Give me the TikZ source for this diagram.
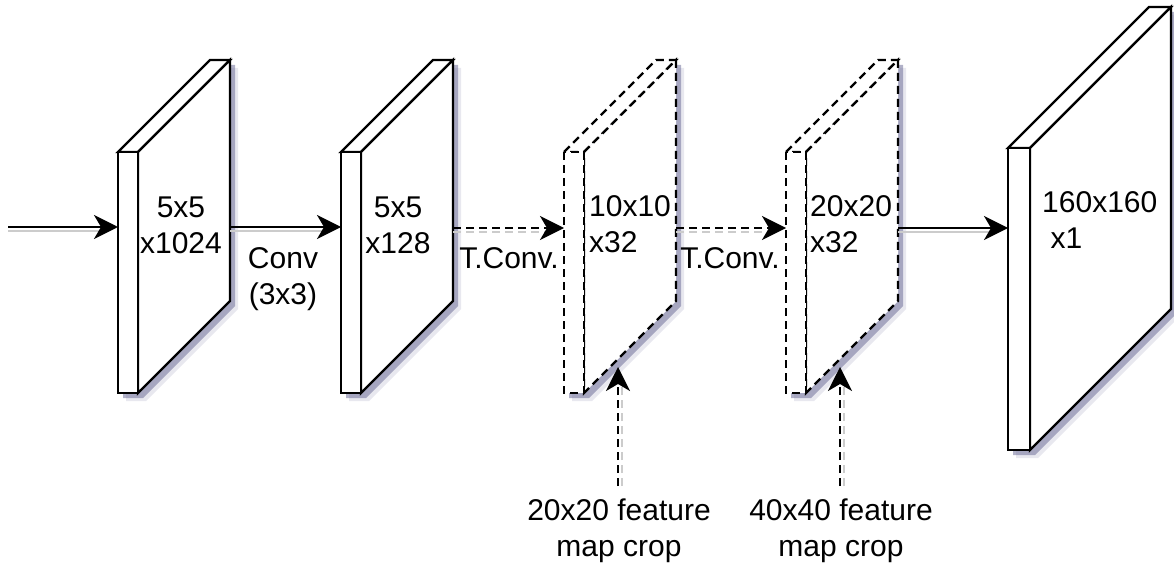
\documentclass[tikz,border=0pt]{standalone}
\usepackage{fontspec}
\setmainfont{Liberation Sans}
\usetikzlibrary{arrows.meta}
\definecolor{shadowc}{RGB}{100,100,145}
\tikzset{
 wire/.style={line width=2.4pt, -{Stealth[length=24pt,width=24pt,inset=7pt]}},
 dashwire/.style={wire, dash pattern=on 8pt off 5pt},
 wireshadow/.style={line width=2.4pt, draw=gray!40},
 dashwireshadow/.style={wireshadow, dash pattern=on 8pt off 5pt},
 blockline/.style={line width=2.4pt, fill=white, line join=miter},
 dashblock/.style={blockline, dash pattern=on 8pt off 5pt},
 lbl/.style={font=\fontsize{30}{36}\selectfont, inner sep=0pt, align=center},
 lbll/.style={lbl, align=left, anchor=west},
}
\newcommand\fmblock[6]{%
 \pgfmathsetmacro\xa{#2}\pgfmathsetmacro\xb{#2+#3}%
 \pgfmathsetmacro\xc{#2+#6}\pgfmathsetmacro\xd{#2+#3+#6}%
 \pgfmathsetmacro\ya{#4}\pgfmathsetmacro\yb{#4-#6}%
 \pgfmathsetmacro\yc{#4+#5}\pgfmathsetmacro\yd{#4+#5-#6}%
 \fill[shadowc, opacity=0.15, xshift=8pt, yshift=-8pt] (\xa,\ya) -- (\xc,\yb) -- (\xd,\yb) -- (\xd,\yd) -- (\xb,\yc) -- (\xa,\yc) -- cycle;
 \fill[shadowc, opacity=0.5, xshift=5pt, yshift=-5pt] (\xa,\ya) -- (\xc,\yb) -- (\xd,\yb) -- (\xd,\yd) -- (\xb,\yc) -- (\xa,\yc) -- cycle;
 \draw[#1] (\xa,\ya) -- (\xc,\yb) -- (\xd,\yb) -- (\xb,\ya) -- cycle;
 \draw[#1] (\xb,\ya) -- (\xd,\yb) -- (\xd,\yd) -- (\xb,\yc) -- cycle;
 \draw[#1] (\xa,\ya) rectangle (\xb,\yc);
}
\begin{document}
\begin{tikzpicture}[x=1pt,y=-1pt]
\useasboundingbox (0,0) rectangle (1174,569);
% blocks
\fmblock{blockline}{118}{20}{152}{241}{92}
\fmblock{blockline}{341}{20}{152}{241}{92}
\fmblock{dashblock}{564}{20}{152}{241}{92}
\fmblock{dashblock}{786}{20}{152}{241}{92}
\fmblock{blockline}{1008}{22}{148}{302}{141}
% connection points
\coordinate (in) at (8,227);
\coordinate (b1w) at (118,227);
\coordinate (b1e) at (230,227);
\coordinate (b2w) at (341,227);
\coordinate (b2e) at (453,228);
\coordinate (b3w) at (564,228);
\coordinate (b3e) at (676,228);
\coordinate (b4w) at (786,228);
\coordinate (b4e) at (898,228);
\coordinate (b5w) at (1008,228);
\coordinate (b3s) at (618,367);
\coordinate (b4s) at (840,367);
\coordinate (c1) at (618,486);
\coordinate (c2) at (840,486);
% connector shadows
\draw[wireshadow] ([yshift=-4pt]in) -- ([yshift=-4pt,xshift=-10pt]b1w);
\draw[wireshadow] ([yshift=-4pt]b1e) -- ([yshift=-4pt,xshift=-10pt]b2w);
\draw[dashwireshadow] ([yshift=-4pt]b2e) -- ([yshift=-4pt,xshift=-10pt]b3w);
\draw[dashwireshadow] ([yshift=-4pt]b3e) -- ([yshift=-4pt,xshift=-10pt]b4w);
\draw[wireshadow] ([yshift=-4pt]b4e) -- ([yshift=-4pt,xshift=-10pt]b5w);
\draw[dashwireshadow] ([xshift=4pt]c1) -- ([xshift=4pt,yshift=-10pt]b3s);
\draw[dashwireshadow] ([xshift=4pt]c2) -- ([xshift=4pt,yshift=-10pt]b4s);
% connectors
\draw[wire] (in) -- (b1w);
\draw[wire] (b1e) -- (b2w);
\draw[dashwire] (b2e) -- (b3w);
\draw[dashwire] (b3e) -- (b4w);
\draw[wire] (b4e) -- (b5w);
\draw[dashwire] (c1) -- (b3s);
\draw[dashwire] (c2) -- (b4s);
% texts
\node[lbl] (t1) at (181,225) {5x5\\x1024};
\node[lbl] (t2) at (398,225) {5x5\\x128};
\node[lbll] (t3) at (589,224) {10x10\\x32};
\node[lbll] (t4) at (810,224) {20x20\\x32};
\node[lbll] (t5) at (1042,220) {160x160\\\ x1};
\node[lbl] (conv) at (283,279) {Conv\\(3x3)};
\node[lbl] (tc1) at (509,258) {T.Conv.};
\node[lbl] (tc2) at (730,258) {T.Conv.};
\node[lbl] (f1) at (619,531) {20x20 feature\\map crop};
\node[lbl] (f2) at (841,531) {40x40 feature\\map crop};
\end{tikzpicture}
\end{document}
